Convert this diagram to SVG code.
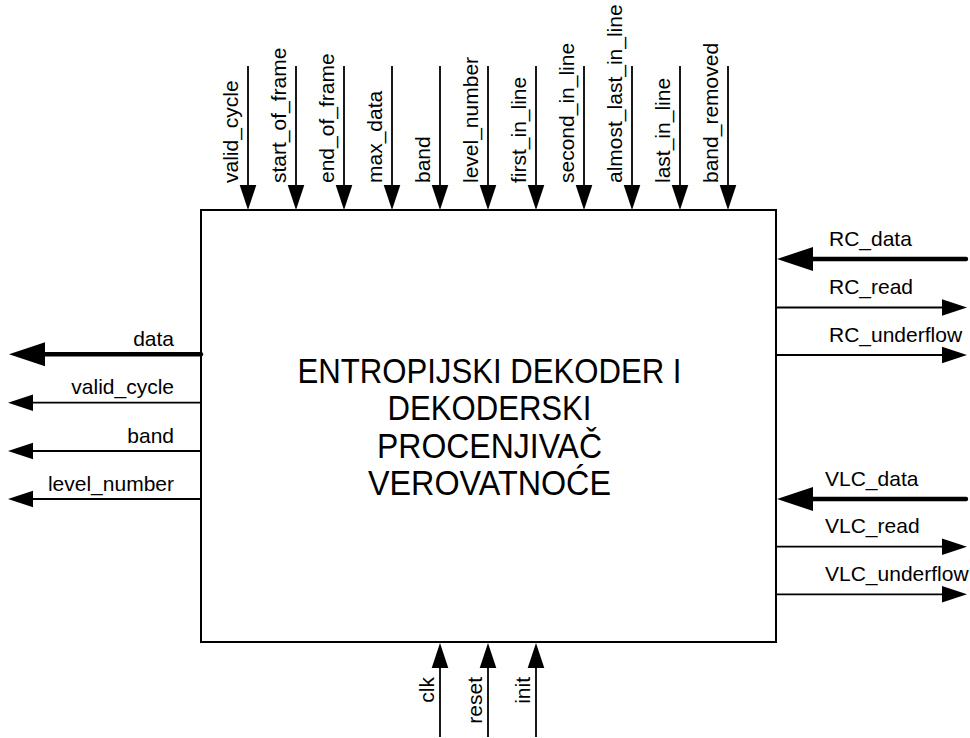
<svg xmlns="http://www.w3.org/2000/svg" width="970" height="738" viewBox="0 0 970 738">
<defs>
<style>
.ln{fill:none;stroke:#000;stroke-width:1.8;marker-end:url(#a)}
.tk{fill:none;stroke:#000;stroke-width:4.4;stroke-linecap:round;marker-end:url(#b)}
.lb{font-family:"Liberation Sans",Arial,sans-serif;font-size:21px;fill:#000}
.mt{font-family:"Liberation Sans",Arial,sans-serif;font-size:35px;fill:#000;text-anchor:middle}
</style>
<marker id="a" markerUnits="userSpaceOnUse" markerWidth="26" markerHeight="18" viewBox="0 -9 26 18" refX="0" refY="0" orient="auto"><path d="M0,-8.3 L25,0 L0,8.3 Z" fill="#000"/></marker>
<marker id="b" markerUnits="userSpaceOnUse" markerWidth="37" markerHeight="26" viewBox="0 -13 37 26" refX="0" refY="0" orient="auto"><path d="M0,-12 L36,0 L0,12 Z" fill="#000"/></marker>
</defs>
<rect width="970" height="738" fill="#fff"/>
<g id="decoder">
<rect x="201" y="210" width="575" height="432" fill="#fff" stroke="#000" stroke-width="2"/>
<text class="mt" x="489.5" y="382.5" textLength="384" lengthAdjust="spacingAndGlyphs">ENTROPIJSKI DEKODER I</text>
<text class="mt" x="489.5" y="420" textLength="204" lengthAdjust="spacingAndGlyphs">DEKODERSKI</text>
<text class="mt" x="489.5" y="457.5" textLength="225" lengthAdjust="spacingAndGlyphs">PROCENJIVAČ</text>
<text class="mt" x="489.5" y="495" textLength="243" lengthAdjust="spacingAndGlyphs">VEROVATNOĆE</text>
</g>
<g id="connectors">
<path class="ln" d="M248,66V185"/>
<path class="ln" d="M296,66V185"/>
<path class="ln" d="M344,66V185"/>
<path class="ln" d="M392,66V185"/>
<path class="ln" d="M440,66V185"/>
<path class="ln" d="M488,66V185"/>
<path class="ln" d="M536,66V185"/>
<path class="ln" d="M584,66V185"/>
<path class="ln" d="M632,66V185"/>
<path class="ln" d="M680,66V185"/>
<path class="ln" d="M728,66V185"/>
<path class="tk" d="M201,354.3H45"/>
<path class="ln" d="M201,402.7H33"/>
<path class="ln" d="M201,451H33"/>
<path class="ln" d="M201,499H33"/>
<path class="tk" d="M966,259H813"/>
<path class="ln" d="M776,307.5H942"/>
<path class="ln" d="M776,355H942"/>
<path class="tk" d="M966,499H813"/>
<path class="ln" d="M776,546.7H942"/>
<path class="ln" d="M776,594.3H942"/>
<path class="ln" d="M440,737V668"/>
<path class="ln" d="M488,737V668"/>
<path class="ln" d="M536,737V668"/>
</g>
<g id="labels" class="lb">
<text transform="translate(238,183) rotate(-90)">valid_cycle</text>
<text transform="translate(286,183) rotate(-90)">start_of_frame</text>
<text transform="translate(334,183) rotate(-90)">end_of_frame</text>
<text transform="translate(382,183) rotate(-90)">max_data</text>
<text transform="translate(430,183) rotate(-90)">band</text>
<text transform="translate(478,183) rotate(-90)">level_number</text>
<text transform="translate(526,183) rotate(-90)">first_in_line</text>
<text transform="translate(574,183) rotate(-90)">second_in_line</text>
<text transform="translate(622,183) rotate(-90)">almost_last_in_line</text>
<text transform="translate(670,183) rotate(-90)">last_in_line</text>
<text transform="translate(718,183) rotate(-90)">band_removed</text>
<text x="174" y="345.5" text-anchor="end">data</text>
<text x="174" y="394" text-anchor="end">valid_cycle</text>
<text x="174" y="442.5" text-anchor="end">band</text>
<text x="174" y="490.5" text-anchor="end">level_number</text>
<text x="829" y="246">RC_data</text>
<text x="829" y="293.5">RC_read</text>
<text x="829" y="341.5">RC_underflow</text>
<text x="825" y="485.5">VLC_data</text>
<text x="825" y="533">VLC_read</text>
<text x="825" y="580.5">VLC_underflow</text>
<text transform="translate(434,677) rotate(-90)" text-anchor="end">clk</text>
<text transform="translate(482,677) rotate(-90)" text-anchor="end">reset</text>
<text transform="translate(530,677) rotate(-90)" text-anchor="end">init</text>
</g>
</svg>
